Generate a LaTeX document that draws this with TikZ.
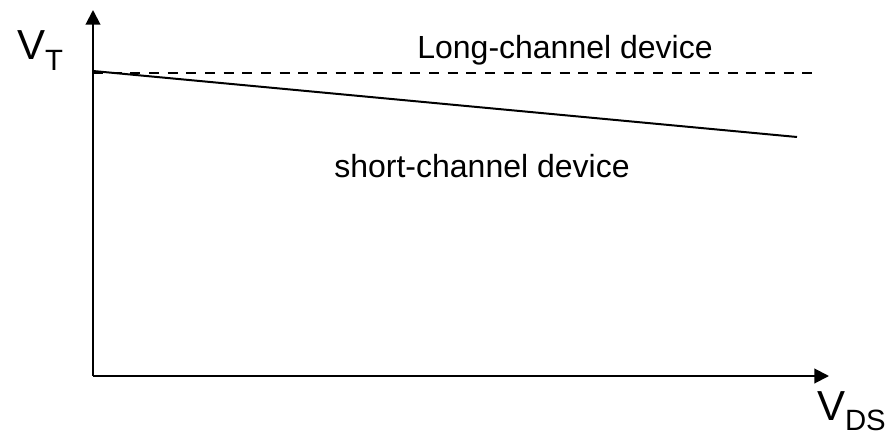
\documentclass[tikz,border=0pt]{standalone}
\usepackage{fontspec}
\setmainfont{Liberation Sans}
\usetikzlibrary{arrows.meta}
\colorlet{curveLong}{black}
\colorlet{curveShort}{black}
\NewDocumentCommand\AxisName{mm}%
{%
{\fontsize{31.5}{32}\selectfont #1\raisebox{-8pt}{\fontsize{22}{22}\selectfont #2}}%
}

\begin{document}
\begin{tikzpicture}[x=0.75pt,y=-0.75pt,line width=1.5pt,
  axis/.style={-{Triangle[length=11pt,width=11pt]}},
  label/.style={inner sep=0pt,font=\fontsize{24}{26}\selectfont}]
\useasboundingbox (0,0) rectangle (886,435);
\coordinate (origin) at (93,376);
\coordinate (ytop) at (93,10);
\coordinate (xend) at (829,376);
\draw[axis] (origin) -- (ytop);
\draw[axis] (origin) -- (xend);
% threshold lines
\coordinate (longstart) at (93,73);
\coordinate (longend) at (813,73);
\coordinate (shortstart) at (93,71);
\coordinate (shortend) at (797,137);
\draw[curveLong,dash pattern=on 7.5pt off 6.5pt] (longstart) -- (longend);
\draw[curveShort] (shortstart) -- (shortend);
% labels
\node[inner sep=0pt,anchor=base west] (vt) at (16,60) {\AxisName{V}{T}};
\node[inner sep=0pt,anchor=base west] (vds) at (816,420) {\AxisName{V}{DS}};
\node[label,anchor=base] (longlabel) at (565,59) {Long-channel device};
\node[label,anchor=base] (shortlabel) at (482,177) {short-channel device};
%\draw[red] (origin) circle (2pt);
\end{tikzpicture}
\end{document}
